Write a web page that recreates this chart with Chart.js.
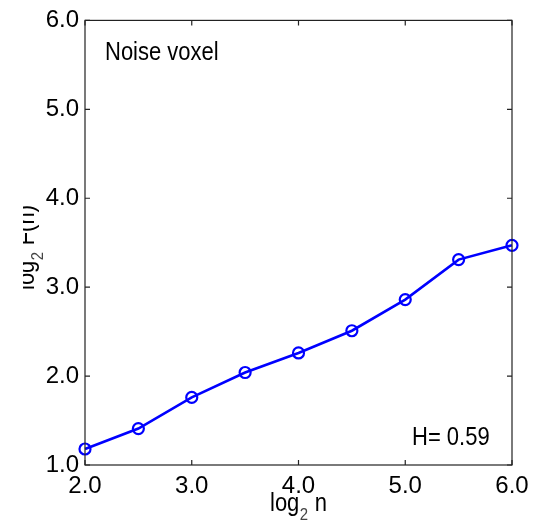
<!DOCTYPE html>
<html>
<head>
<meta charset="utf-8">
<script src="https://cdn.jsdelivr.net/npm/chart.js@4"></script>
<style>
  html, body { margin: 0; padding: 0; background: #fff; }
  #wrap { width: 537px; height: 523px; }
</style>
</head>
<body>
<div id="wrap"><canvas id="lineChart" width="537" height="523"></canvas></div>
<script>
// values
const logN = [2.0, 2.5, 3.0, 3.5, 4.0, 4.5, 5.0, 5.5, 6.0];
const logF = [1.18, 1.41, 1.76, 2.04, 2.26, 2.51, 2.86, 3.31, 3.47];
const xTicks = [2, 3, 4, 5, 6];
const yTicks = [1, 2, 3, 4, 5, 6];
const panelLabel = "Noise voxel";
const hurstLabel = "H= 0.59";

const FONT = "'Liberation Sans', Arial, Helvetica, sans-serif";
const BLUE = 'rgb(0, 0, 255)';
const SQUEEZE = 0.88; // the original text is narrow

// draw "log" + subscript 2 + rest, starting at (0,0) baseline
function drawLogText(ctx, rest) {
    ctx.scale(SQUEEZE, 1);
    ctx.font = '25px ' + FONT;
    ctx.fillStyle = '#000';
    ctx.textAlign = 'left';
    ctx.textBaseline = 'alphabetic';
    ctx.fillText('log', 0, 0);
    let w = ctx.measureText('log').width;
    ctx.font = '17px ' + FONT;
    ctx.fillStyle = '#444';
    ctx.fillText('2', w + 0.5, 9);
    w += ctx.measureText('2').width + 1;
    ctx.font = '25px ' + FONT;
    ctx.fillStyle = '#000';
    ctx.fillText(rest, w, 0);
}

function squeezedText(ctx, text, x, y) {
    ctx.save();
    ctx.translate(x, y);
    ctx.scale(SQUEEZE, 1);
    ctx.font = '25px ' + FONT;
    ctx.fillStyle = '#000';
    ctx.textAlign = 'left';
    ctx.textBaseline = 'alphabetic';
    ctx.fillText(text, 0, 0);
    ctx.restore();
}

const framePlugin = {
    id: 'frame',
    afterDraw(chart) {
        const ctx = chart.ctx;
        const a = chart.chartArea;
        const xs = chart.scales.x, ys = chart.scales.y;
        ctx.save();
        ctx.strokeStyle = '#222';
        ctx.lineWidth = 1.2;
        ctx.strokeRect(a.left, a.top, a.right - a.left, a.bottom - a.top);
        // inward tick marks on all four sides
        const len = 5;
        ctx.beginPath();
        xTicks.forEach(v => {
            const px = xs.getPixelForValue(v);
            ctx.moveTo(px, a.bottom); ctx.lineTo(px, a.bottom - len);
            ctx.moveTo(px, a.top); ctx.lineTo(px, a.top + len);
        });
        yTicks.forEach(v => {
            const py = ys.getPixelForValue(v);
            ctx.moveTo(a.left, py); ctx.lineTo(a.left + len, py);
            ctx.moveTo(a.right, py); ctx.lineTo(a.right - len, py);
        });
        ctx.stroke();

        // annotations
        squeezedText(ctx, panelLabel, a.left + 20, 60);
        squeezedText(ctx, hurstLabel, 412, 445);

        // x title
        ctx.save();
        ctx.translate(270, 511);
        drawLogText(ctx, ' n');
        ctx.restore();

        // y title, rotated, left part clipped like the original
        ctx.save();
        ctx.beginPath();
        ctx.rect(23, 0, 60, chart.height);
        ctx.clip();
        ctx.translate(34, 290);
        ctx.rotate(-Math.PI / 2);
        drawLogText(ctx, ' F(n)');
        ctx.restore();
        ctx.restore();
    }
};

const lineData = {
    datasets: [{
        data: logN.map((x, i) => ({ x: x, y: logF[i] })),
        borderColor: BLUE,
        borderWidth: 2.6,
        pointStyle: 'circle',
        pointRadius: 5.5,
        pointBorderWidth: 2.2,
        pointBorderColor: BLUE,
        pointBackgroundColor: 'rgba(0,0,0,0)',
        tension: 0,
        clip: false
    }]
};

const lineOptions = {
    responsive: false,
    animation: false,
    layout: { padding: { top: 19, right: 25, left: 0, bottom: 0 } },
    plugins: {
        legend: { display: false },
        title: { display: false },
        tooltip: { enabled: false }
    },
    scales: {
        x: {
            type: 'linear',
            min: 2, max: 6,
            grid: { display: false, drawTicks: false },
            border: { display: false },
            ticks: {
                stepSize: 1,
                padding: 7,
                color: '#000',
                font: { family: FONT, size: 24 },
                maxRotation: 0,
                callback: v => v.toFixed(1)
            },
            afterFit: s => { s.height = 58; }
        },
        y: {
            type: 'linear',
            min: 1, max: 6,
            grid: { display: false, drawTicks: false },
            border: { display: false },
            ticks: {
                stepSize: 1,
                padding: 6,
                color: '#000',
                font: { family: FONT, size: 24 },
                callback: v => v.toFixed(1)
            },
            afterFit: s => { s.width = 85; }
        }
    }
};

const lineCtx = document.getElementById('lineChart').getContext('2d');
const lineChart = new Chart(lineCtx, {
    type: 'line',
    data: lineData,
    options: lineOptions,
    plugins: [framePlugin]
});
</script>
</body>
</html>
